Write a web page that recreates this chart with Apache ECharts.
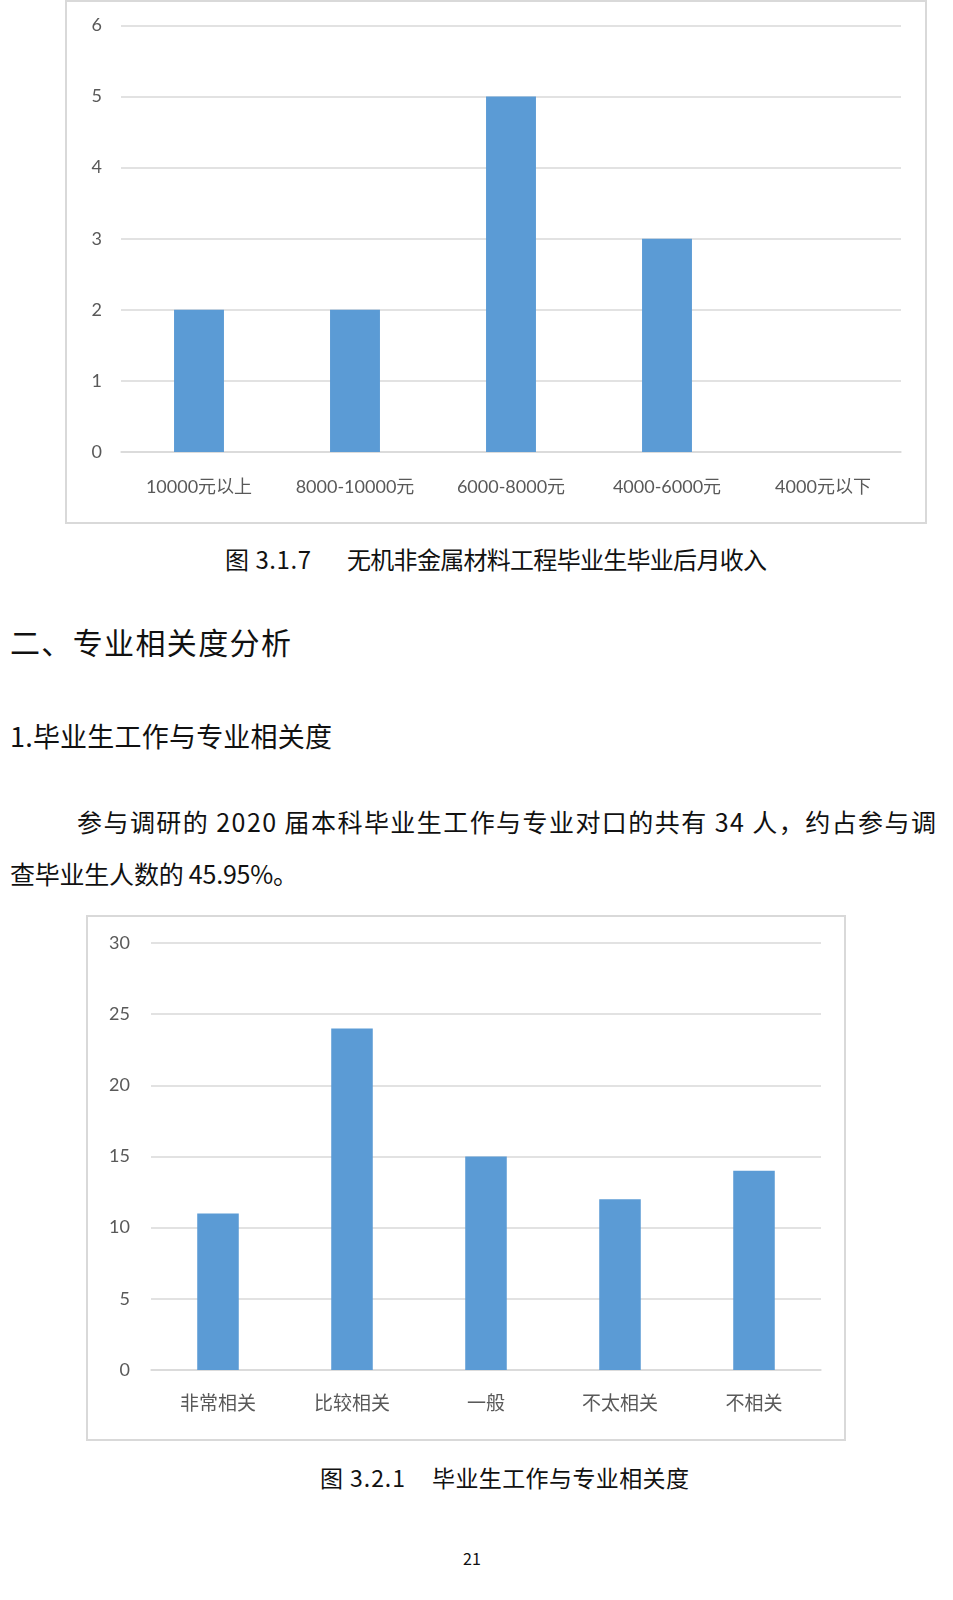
<!DOCTYPE html>
<html>
<head>
<meta charset="utf-8">
<script src="https://cdn.jsdelivr.net/npm/echarts@6/dist/echarts.min.js"></script>
<style>
  html, body { margin: 0; padding: 0; background: #fff; }
  body { width: 953px; height: 1600px; position: relative; overflow: hidden;
         font-family: "Noto Sans CJK SC", sans-serif; color: #111; }
  .chart { position: absolute; }
  .frame { position: absolute; border: 2px solid #d9d9d9; box-sizing: border-box; pointer-events: none; }
  .txt { position: absolute; white-space: pre; }
</style>
</head>
<body>
<div id="c1" class="chart" style="left:66px; top:1px; width:860px; height:522px;"></div>
<div class="frame" style="left:65px; top:0px; width:862px; height:524px;"></div>
<div id="c2" class="chart" style="left:87px; top:916px; width:758px; height:524px;"></div>
<div class="frame" style="left:86px; top:915px; width:760px; height:526px;"></div>
<script>
// ---- data ----
const incomeCategories = ["10000元以上", "8000-10000元", "6000-8000元", "4000-6000元", "4000元以下"];
const incomeValues = [2, 2, 5, 3, 0];
const incomeTicks = { min: 0, max: 6, interval: 1 };

const relevanceCategories = ["非常相关", "比较相关", "一般", "不太相关", "不相关"];
const relevanceValues = [11, 24, 15, 12, 14];
const relevanceTicks = { min: 0, max: 30, interval: 5 };

const caption1Num = "图 3.1.7";
const caption1Text = "无机非金属材料工程毕业生毕业后月收入";
const heading = "二、专业相关度分析";
const subheading = "1.毕业生工作与专业相关度";
const paraLine1 = "参与调研的 2020 届本科毕业生工作与专业对口的共有 34 人，约占参与调";
const paraLine2 = "查毕业生人数的 45.95%。";
const caption2Num = "图 3.2.1";
const caption2Text = "毕业生工作与专业相关度";
const pageNumber = "21";

// ---- text placement ----
function place(text, left, right, cy, size, center) {
  const d = document.createElement('div');
  d.className = 'txt';
  d.textContent = text;
  d.style.fontSize = size + 'px';
  d.style.lineHeight = size + 'px';
  d.style.left = left + 'px';
  d.style.top = (cy - size / 2) + 'px';
  document.body.appendChild(d);
  const w = d.getBoundingClientRect().width;
  const n = Array.from(text).length;
  if (center != null) {
    d.style.left = (center - w / 2) + 'px';
  } else if (right != null && n > 1) {
    const ls = (right - left - w) / (n - 1);
    d.style.letterSpacing = ls + 'px';
  }
  return d;
}
place(caption1Num, 225, 311, 559, 24);
place(caption1Text, 347, 767, 559, 24);
place(heading, 10, 291, 641, 30);
place(subheading, 10, 332, 735, 27);
place(paraLine1, 77, 936, 821, 25);
place(paraLine2, 10, 298, 873, 25);
place(caption2Num, 320, 405, 1477, 23);
place(caption2Text, 432, 689, 1477, 23);
place(pageNumber, 0, null, 1558, 16, 472);

// ---- charts ----
const labelFont = 'Lato, "Noto Sans CJK SC", sans-serif';
function barOption(cats, vals, ticks, grid, yMargin, xMargin, xSize, barW) {
  return {
    animation: false,
    grid: grid,
    xAxis: {
      type: 'category',
      data: cats,
      axisTick: { show: false },
      axisLine: { lineStyle: { color: '#d9d9d9', width: 1.5 } },
      axisLabel: { color: '#595959', fontSize: xSize, fontFamily: labelFont, margin: xMargin, interval: 0 }
    },
    yAxis: {
      type: 'value',
      min: ticks.min, max: ticks.max, interval: ticks.interval,
      axisLine: { show: false },
      axisTick: { show: false },
      splitLine: { lineStyle: { color: '#d9d9d9', width: 1.5 } },
      axisLabel: { color: '#595959', fontSize: 18, fontFamily: labelFont, margin: yMargin }
    },
    series: [{
      type: 'bar',
      data: vals,
      barWidth: barW,
      itemStyle: { color: '#5b9bd5' }
    }]
  };
}
const chart1 = echarts.init(document.getElementById('c1'));
chart1.setOption(barOption(incomeCategories, incomeValues, incomeTicks,
  { left: 55, right: 25, top: 24.5, bottom: 71 }, 19, 26, 18, '32%'));
const chart2 = echarts.init(document.getElementById('c2'));
chart2.setOption(barOption(relevanceCategories, relevanceValues, relevanceTicks,
  { left: 64, right: 24, top: 27, bottom: 70 }, 21, 24, 19, '31%'));
</script>
</body>
</html>
